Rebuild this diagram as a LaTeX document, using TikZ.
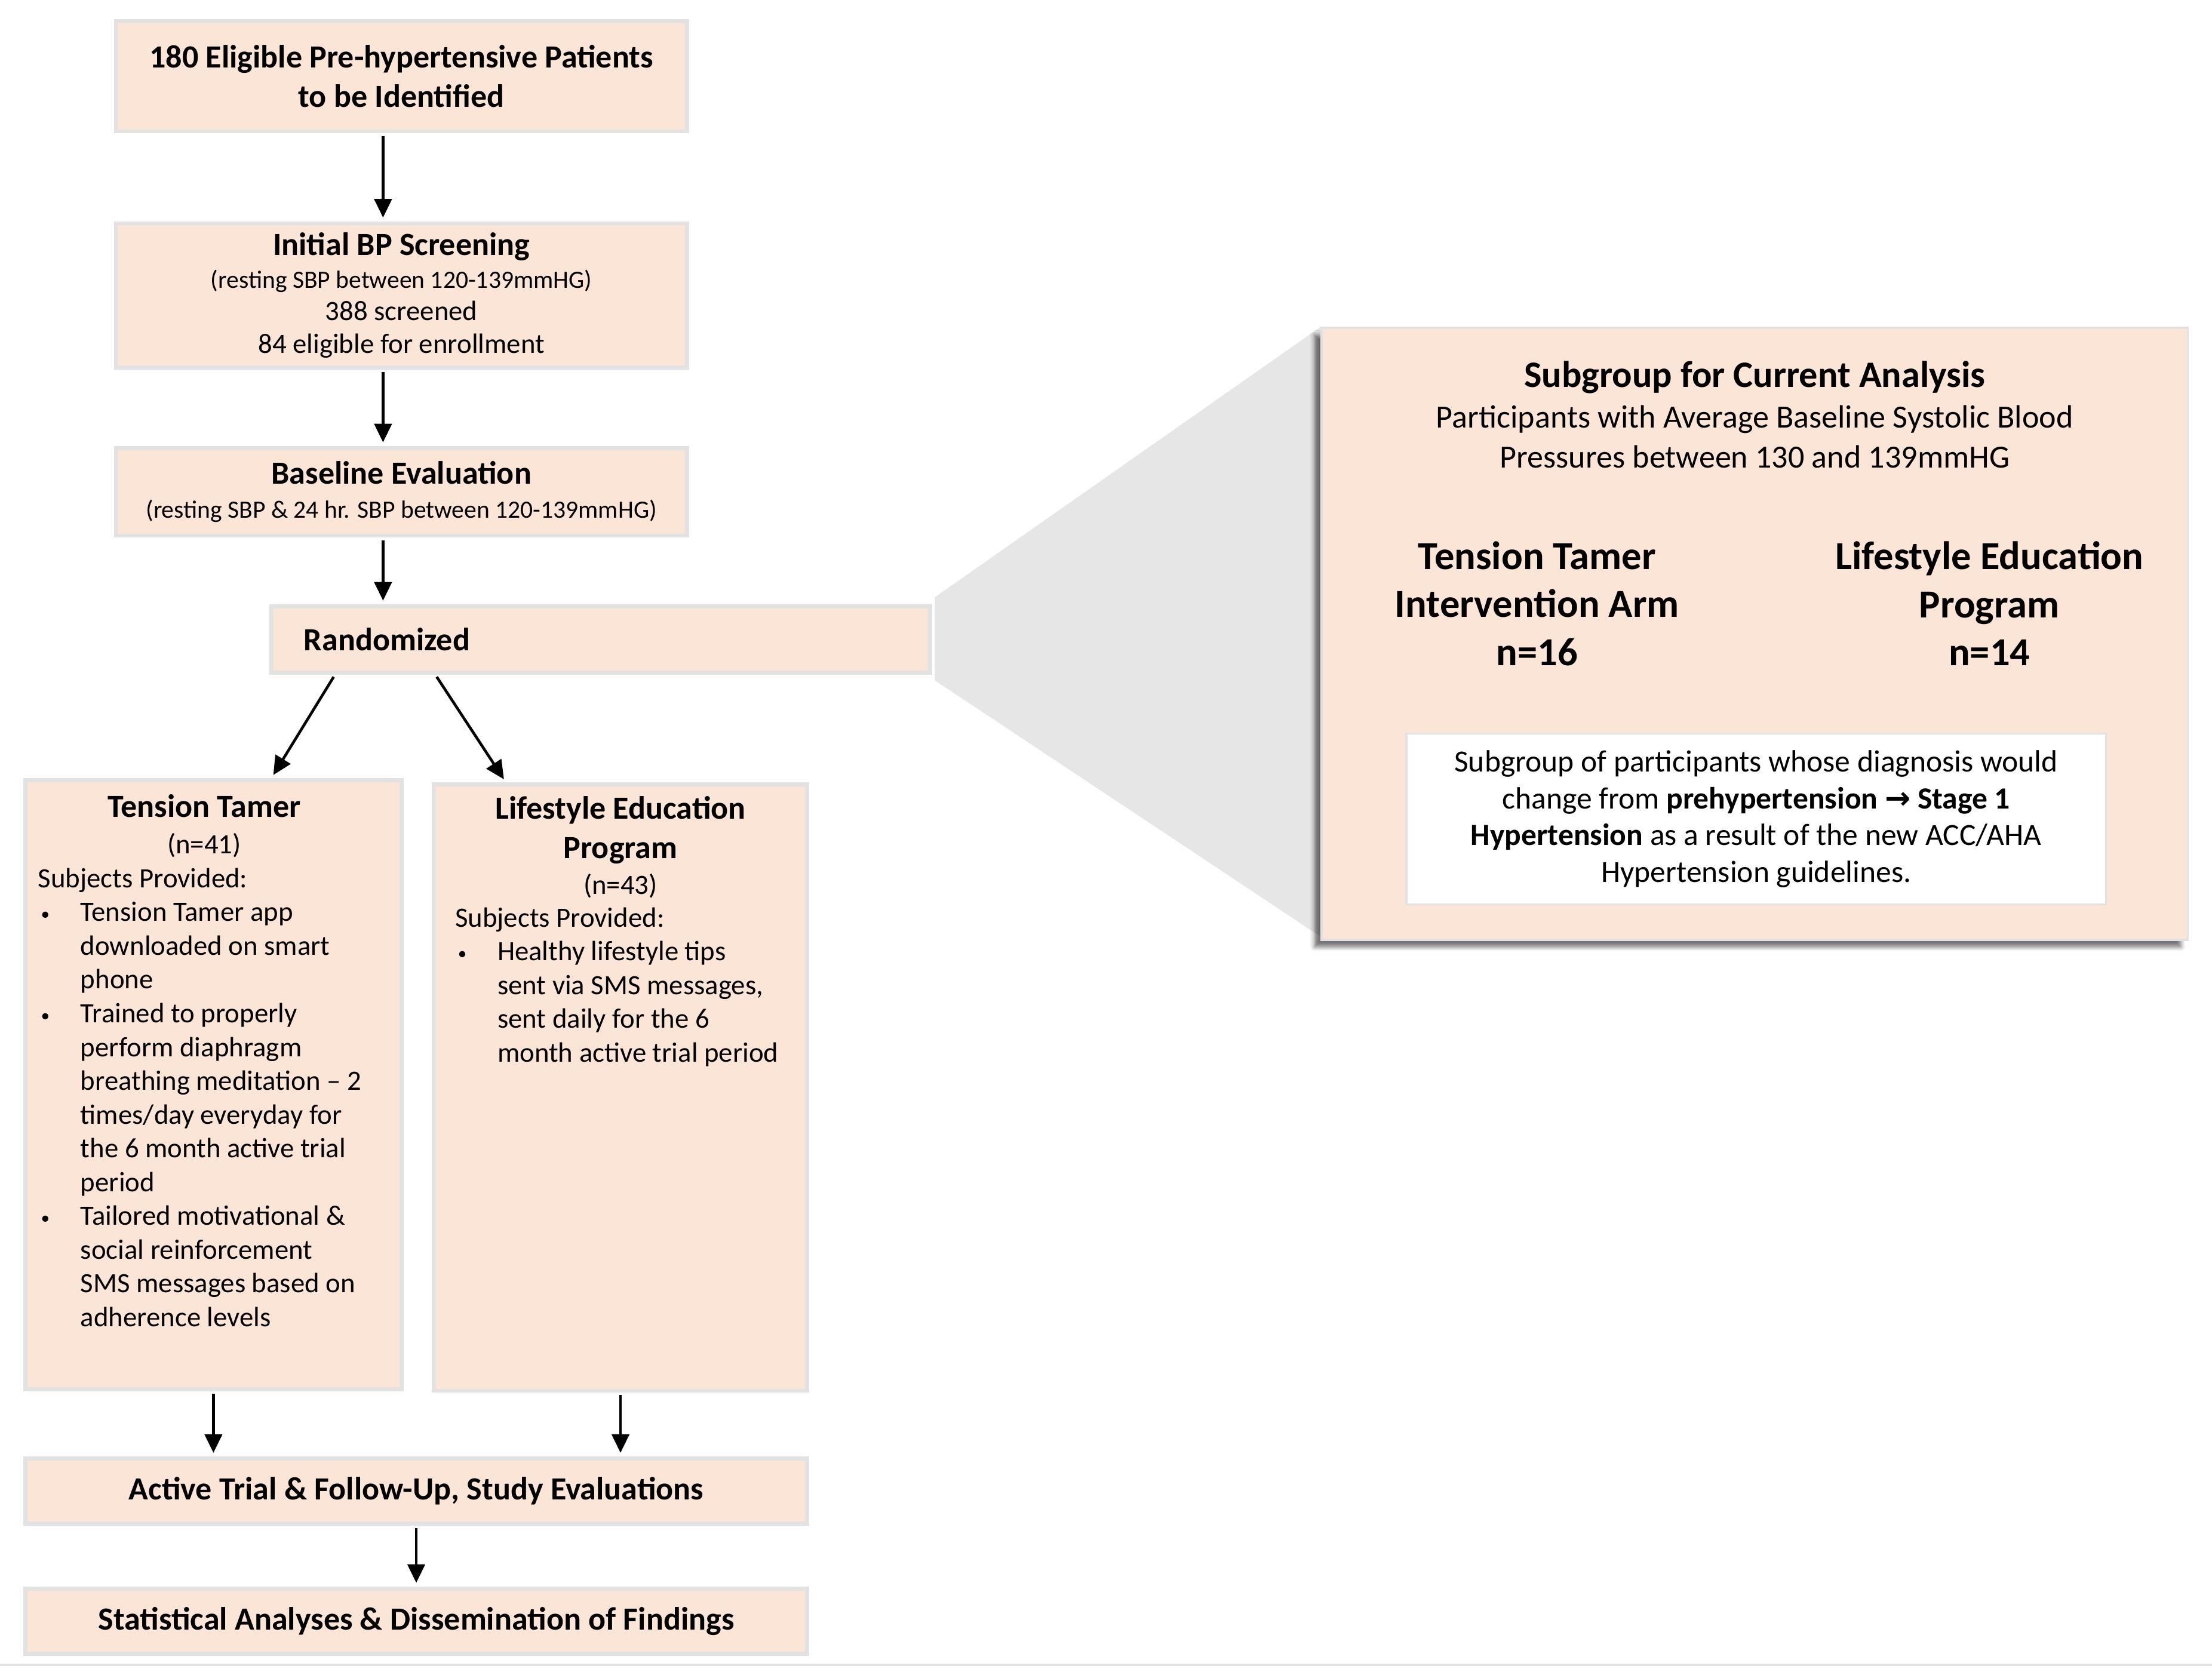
\documentclass[tikz,border=0pt]{standalone}
\usepackage{fontspec}
\setmainfont{Carlito}
\newfontfamily\arrowfont{DejaVu Sans}
\usepackage{xcolor}
\usepackage{tikz}
\usetikzlibrary{positioning, arrows.meta, shadows.blur, backgrounds}

\definecolor{peach}{HTML}{FBE5D6}
\definecolor{edgegray}{HTML}{E2E2E2}
\definecolor{funnel}{HTML}{E6E6E6}

\newcommand{\ttl}{\bfseries\fontsize{13}{15.8}\selectfont}
\newcommand{\sml}{\fontsize{10}{13}\selectfont}
\newcommand{\dotmark}{{\fontsize{7}{8}\selectfont\raisebox{0.5pt}{\textbullet}}}
\newenvironment{steps}{%
  \begin{list}{\dotmark}{%
    \setlength{\leftmargin}{0.6cm}\setlength{\labelwidth}{0.52cm}%
    \setlength{\labelsep}{0.08cm}\setlength{\itemsep}{0pt}%
    \setlength{\parsep}{0pt}\setlength{\topsep}{0pt}%
    \setlength{\partopsep}{0pt}%
    \renewcommand{\makelabel}[1]{\hspace*{0.04cm}##1\hfil}}\raggedright}%
  {\end{list}}

\begin{document}
\begin{tikzpicture}[
    box/.style={draw=edgegray, line width=1.6pt, fill=peach, align=center, inner sep=0pt, font=\fontsize{11.25}{13.6}\selectfont},
    arr/.style={line width=1.1pt, -{Triangle[length=7.5pt,width=7pt]}, shorten <=1pt, shorten >=1.5pt},
    arm/.style={align=center, font=\bfseries\fontsize{16}{19.3}\selectfont}]
    \useasboundingbox (0,0) rectangle (31.3,-23.66);

    \node[box, minimum width=8.08cm, minimum height=1.56cm, font=\ttl] (pat) at (5.68,-1.08) {180 Eligible Pre-hypertensive Patients\\ to be Identified};
    \node[box, minimum width=8.08cm, minimum height=2.04cm, font=\fontsize{11.25}{13.1}\selectfont] (scr) at (5.68,-4.18) {{\ttl Initial BP Screening}\\ {\sml (resting SBP between 120-139mmHG)}\\ 388 screened\\ 84 eligible for enrollment};
    \node[box, minimum width=8.08cm, minimum height=1.24cm] (base) at (5.68,-6.96) {{\ttl Baseline Evaluation}\\ {\sml (resting SBP \& 24 hr. SBP between 120-139mmHG)}};
    \node[box, minimum width=9.32cm, minimum height=0.94cm, text width=8.4cm, inner xsep=0.46cm, align=left] (rand) at (8.5,-9.05) {\ttl Randomized};

    \node[box, minimum width=5.32cm, minimum height=8.62cm] (tt) at (3.02,-15.35) {\parbox[t][8.22cm][t]{4.96cm}{\raggedright
        {\ttl\makebox[4.7cm]{Tension Tamer}\par}
        {\fontsize{11.25}{14.8}\selectfont\makebox[4.7cm]{(n=41)}\par}
        Subjects Provided:
        \begin{steps}
            \item Tension Tamer app\\ downloaded on smart\\ phone
            \item Trained to properly\\ perform diaphragm\\ breathing meditation \textendash{} 2\\ times/day everyday for\\ the 6 month active trial\\ period
            \item Tailored motivational \&\\ social reinforcement\\ SMS messages based on\\ adherence levels
        \end{steps}}};
    \node[box, minimum width=5.28cm, minimum height=8.58cm] (le) at (8.78,-15.39) {\parbox[t][8.24cm][t]{4.68cm}{\raggedright
        {\ttl\centering Lifestyle Education\\ Program\par}
        {\centering\fontsize{11.25}{14.4}\selectfont (n=43)\par}
        {\fontsize{11.25}{13.2}\selectfont Subjects Provided:\par}
        \begin{steps}
            \item Healthy lifestyle tips\\ sent via SMS messages,\\ sent daily for the 6\\ month active trial period
        \end{steps}}};

    \node[box, minimum width=11.06cm, minimum height=0.92cm] (act) at (5.89,-21.1) {\ttl Active Trial \& Follow-Up, Study Evaluations};
    \node[box, minimum width=11.06cm, minimum height=0.92cm] (stat) at (5.89,-22.94) {\ttl Statistical Analyses \& Dissemination of Findings};

    \node[draw=edgegray, line width=0.8pt, fill=peach, minimum width=12.26cm, minimum height=8.66cm, blur shadow={shadow xshift=-0.1cm, shadow yshift=-0.1cm, shadow blur radius=0.06cm, shadow opacity=55}] (sub) at (24.83,-8.97) {};
    \node[align=center, font=\fontsize{13}{16.2}\selectfont] (subttl) at ([yshift=3.1cm]sub.center) {{\bfseries\fontsize{15}{16.2}\selectfont Subgroup for Current Analysis}\\ Participants with Average Baseline Systolic Blood\\ Pressures between 130 and 139mmHG};
    \node[arm] (ttarm) at ([xshift=-3.08cm, yshift=0.43cm]sub.center) {Tension Tamer\\ Intervention Arm\\ n=16};
    \node[arm] (learm) at ([xshift=3.32cm, yshift=0.43cm]sub.center) {Lifestyle Education\\ Program\\ n=14};
    \node[draw=edgegray, line width=0.8pt, fill=white, minimum width=9.9cm, minimum height=2.42cm, align=center, font=\fontsize{12.4}{14.8}\selectfont] (note) at ([xshift=0.02cm, yshift=-2.62cm]sub.center) {Subgroup of participants whose diagnosis would\\ change from \textbf{prehypertension {\arrowfont→} Stage 1}\\ \textbf{Hypertension} as a result of the new ACC/AHA\\ Hypertension guidelines.};

    \begin{scope}[on background layer]
    \fill[funnel] ([shift={(0.04,0.1)}]rand.north east) -- (sub.north west) -- ([yshift=0.06cm]sub.south west) -- ([shift={(0.04,-0.08)}]rand.south east) -- cycle;
    \end{scope}

    \draw[arr] ([xshift=-0.26cm]pat.south) -- ([xshift=-0.26cm]scr.north);
    \draw[arr] ([xshift=-0.26cm]scr.south) -- ([xshift=-0.26cm]base.north);
    \draw[arr] ([xshift=-0.26cm]base.south) -- ([xshift=-0.26cm]base.south |- rand.north);
    \draw[arr] ([xshift=-3.76cm]rand.south) -- ([xshift=0.82cm]tt.north);
    \draw[arr] ([xshift=-2.34cm]rand.south) -- ([xshift=-1.62cm]le.north);
    \draw[arr] (tt.south) -- (tt.south |- act.north);
    \draw[arr] (le.south) -- (le.south |- act.north);
    \draw[arr] (act.south) -- (stat.north);

    \draw[edgegray, line width=0.03cm] (0,-23.56) -- (31.3,-23.56);
\end{tikzpicture}
\end{document}
